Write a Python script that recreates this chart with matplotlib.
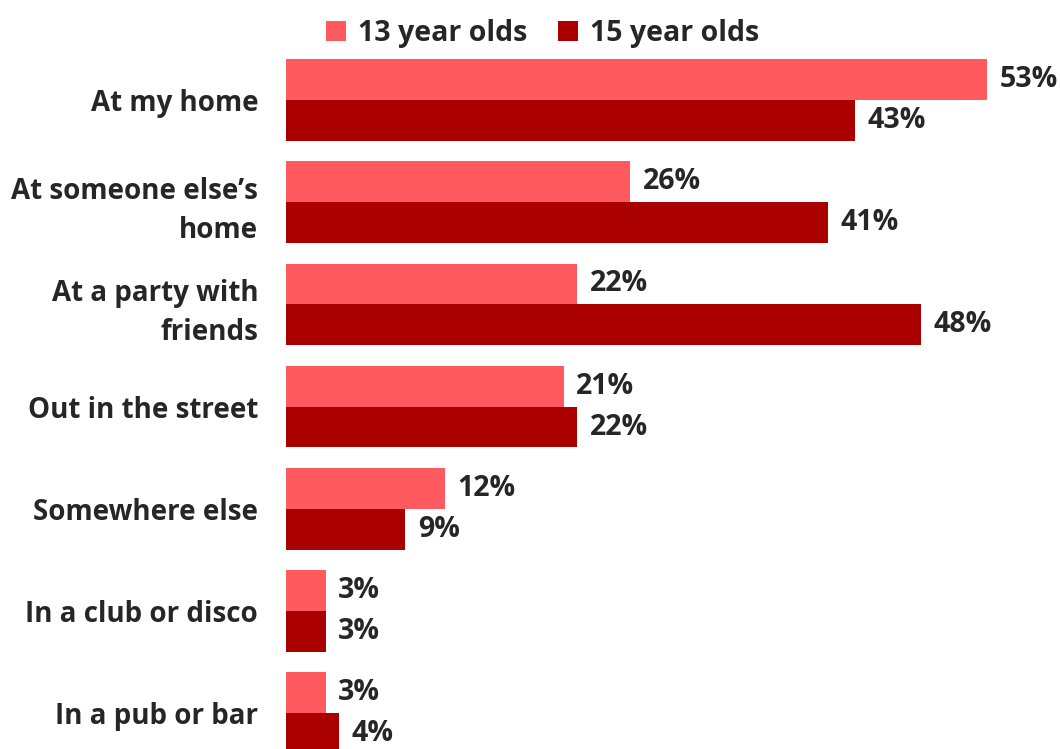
import numpy as np
import matplotlib.pyplot as plt

categories = ["At my home", "At someone else\u2019s\nhome", "At a party with\nfriends",
              "Out in the street", "Somewhere else", "In a club or disco", "In a pub or bar"]
age13 = [53, 26, 22, 21, 12, 3, 3]
age15 = [43, 41, 48, 22, 9, 3, 4]
series_names = ["13 year olds", "15 year olds"]

light = "#FF5A5F"
dark = "#AA0000"
txt = "#262626"

plt.rcParams['font.family'] = ['Open Sans', 'DejaVu Sans']
plt.rcParams['font.weight'] = 'bold'

fig = plt.figure(figsize=(10.6, 7.49), dpi=100)
ax = fig.add_axes([286 / 1060, 0, 1 - 286 / 1060, 1])

y = np.arange(len(categories))
h = 0.40
b1 = ax.barh(y - h / 2, age13, height=h, color=light, label=series_names[0])
b2 = ax.barh(y + h / 2, age15, height=h, color=dark, label=series_names[1])

for bars, vals in ((b1, age13), (b2, age15)):
    for bar, v in zip(bars, vals):
        ax.text(v + 0.95, bar.get_y() + bar.get_height() / 2, f"{v}%",
                va='center', ha='left', fontsize=20.5, fontweight='bold', color=txt)

ax.set_xlim(0, (1060 - 286) / 13.23)
ax.set_ylim((749 - 100) / 102.2, -100 / 102.2)
ax.set_yticks(y)
ax.set_yticklabels(categories, fontsize=20, fontweight='bold', color=txt,
                   linespacing=1.45)
ax.tick_params(axis='y', length=0, pad=20)
ax.set_xticks([])
for s in ax.spines.values():
    s.set_visible(False)

leg = fig.legend(loc='center', bbox_to_anchor=(0.512, 1 - 33 / 749), ncol=2, frameon=False,
                 handlelength=0.7, handleheight=0.7, handletextpad=0.4,
                 columnspacing=1.1, prop={'weight': 'bold', 'size': 20.5})
for t in leg.get_texts():
    t.set_color(txt)

fig.savefig("out.png", dpi=100)
